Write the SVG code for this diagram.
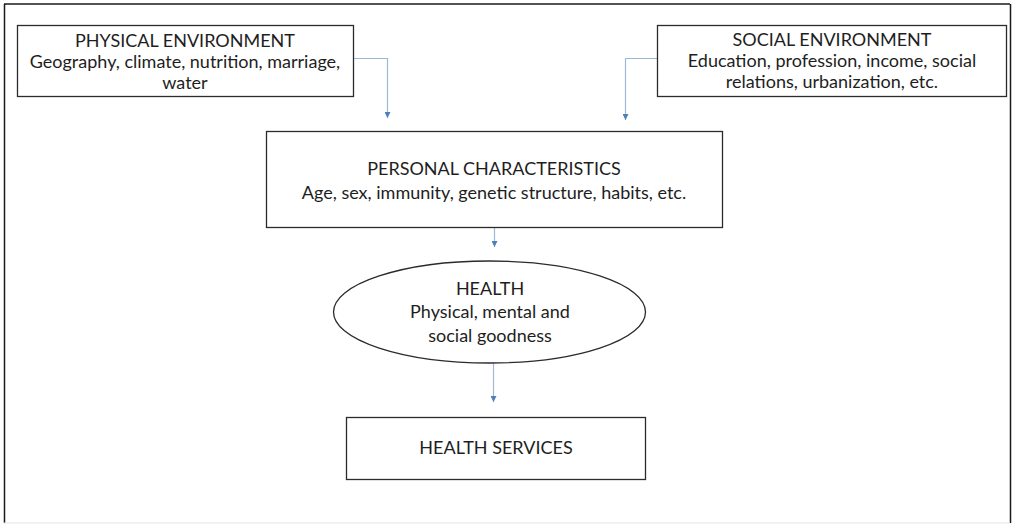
<svg xmlns="http://www.w3.org/2000/svg" width="1016" height="526" viewBox="0 0 1016 526">
<defs>
<style>
.box{fill:#fff;stroke:#2b2b2b;stroke-width:1.3}
.t{font-family:Lato,"Open Sans","Liberation Sans",sans-serif;font-size:18px;fill:#1e1e1e;text-anchor:middle}
.c{fill:none;stroke:#9fb8d6;stroke-width:1.2}
</style>
<marker id="ah" viewBox="0 0 10 10" refX="10" refY="5" markerWidth="6" markerHeight="6" markerUnits="userSpaceOnUse" orient="auto">
<path d="M0,0 L10,5 L0,10 z" fill="#4f7fb8"/>
</marker>
</defs>
<rect width="1016" height="526" fill="#fff"/>
<g id="frame">
<line x1="4" y1="4" x2="1010" y2="4" stroke="#1a1a1a" stroke-width="1.5"/>
<line x1="4.5" y1="4" x2="4.5" y2="523" stroke="#1a1a1a" stroke-width="1.5"/>
<line x1="1010.5" y1="4" x2="1010.5" y2="523" stroke="#1a1a1a" stroke-width="1.5"/>
<line x1="4" y1="523" x2="1010" y2="523" stroke="#e6e6e6" stroke-width="1.2"/>
</g>
<g id="connectors">
<path class="c" d="M353,58.5 H387.5 V118" marker-end="url(#ah)"/>
<path class="c" d="M657,58.5 H625.5 V120" marker-end="url(#ah)"/>
<path class="c" d="M494.5,227 V247" marker-end="url(#ah)"/>
<path class="c" d="M493.5,363 V402" marker-end="url(#ah)"/>
</g>
<g id="physical">
<rect class="box" x="17.5" y="25.5" width="336" height="71"/>
<text class="t" x="185" y="47">PHYSICAL ENVIRONMENT</text>
<text class="t" x="185" y="68">Geography, climate, nutrition, marriage,</text>
<text class="t" x="185" y="89">water</text>
</g>
<g id="social">
<rect class="box" x="657.5" y="25.5" width="349" height="71"/>
<text class="t" x="832" y="46">SOCIAL ENVIRONMENT</text>
<text class="t" x="832" y="67">Education, profession, income, social</text>
<text class="t" x="832" y="88">relations, urbanization, etc.</text>
</g>
<g id="personal">
<rect class="box" x="266.5" y="131.5" width="456" height="96"/>
<text class="t" x="494" y="175">PERSONAL CHARACTERISTICS</text>
<text class="t" x="494" y="199">Age, sex, immunity, genetic structure, habits, etc.</text>
</g>
<g id="health">
<ellipse class="box" cx="489.5" cy="312" rx="156" ry="51"/>
<text class="t" x="490" y="295">HEALTH</text>
<text class="t" x="490" y="318">Physical, mental and</text>
<text class="t" x="490" y="342">social goodness</text>
</g>
<g id="services">
<rect class="box" x="346.5" y="417.5" width="299" height="62"/>
<text class="t" x="496" y="454">HEALTH SERVICES</text>
</g>
</svg>
